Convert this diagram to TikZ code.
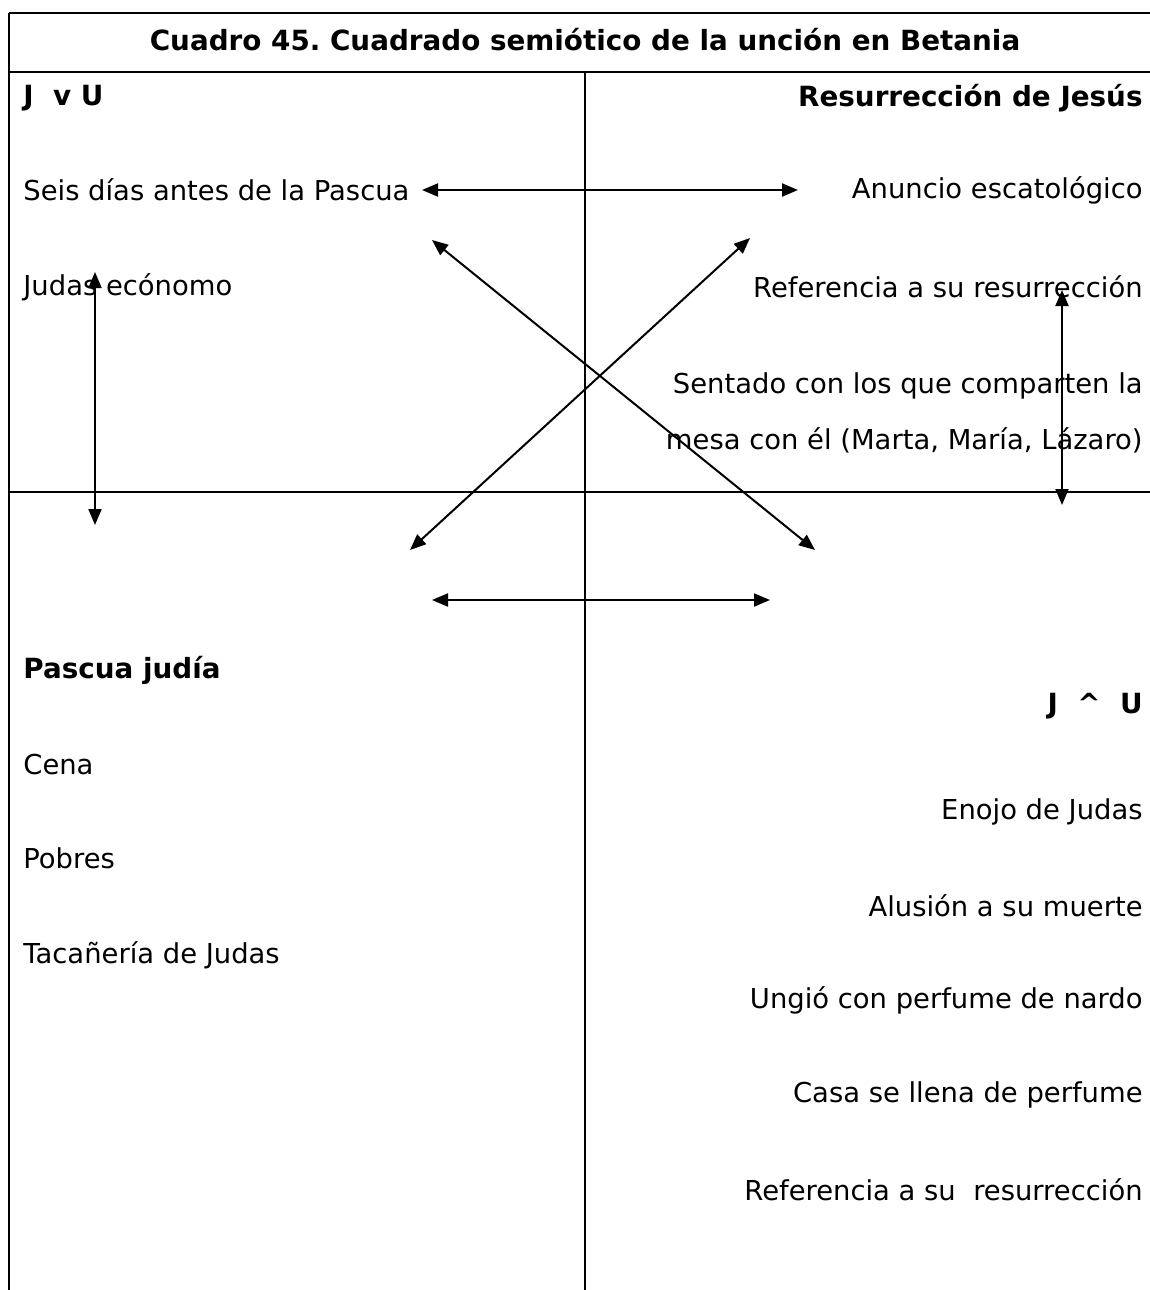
\documentclass[tikz,border=0pt]{standalone}
\usepackage{fontspec}
\setmainfont{DejaVu Sans}
\usetikzlibrary{arrows.meta}
\frenchspacing
\begin{document}
\begin{tikzpicture}[x=0.5pt,y=-0.5pt,
  frame/.style={line width=1pt},
  lab/.style={inner sep=0pt,font=\fontsize{13.7pt}{16pt}\selectfont},
  ttl/.style={inner sep=0pt,font=\fontsize{13.9pt}{16pt}\selectfont\bfseries},
  arr/.style={line width=1pt,{Triangle[length=8pt,width=6.5pt]}-{Triangle[length=8pt,width=6.5pt]}}]
\useasboundingbox (0,0) rectangle (1150,1290);
% frame
\draw[frame] (9,13) -- (1150,13);
\draw[frame] (9,13) -- (9,1290);
\draw[frame] (9,72) -- (1150,72);
\draw[frame] (585,72) -- (585,1290);
\draw[frame] (9,492) -- (1150,492);
% title
\node[ttl] (title) at (585,40) {Cuadro 45. Cuadrado semiótico de la unción en Betania};
% top-left
\node[ttl,anchor=west] (tl0) at (23,98) {J\ \ v U};
\node[lab,anchor=west] (tl1) at (23,190) {Seis días antes de la Pascua};
\node[lab,anchor=west] (tl2) at (23,287) {Judas ecónomo};
% top-right
\node[ttl,anchor=east] (tr0) at (1143,98) {Resurrección de Jesús};
\node[lab,anchor=east] (tr1) at (1143,190) {Anuncio escatológico};
\node[lab,anchor=east] (tr2) at (1143,287) {Referencia a su resurrección};
\node[lab,anchor=east] (tr3) at (1143,386) {Sentado con los que comparten la};
\node[lab,anchor=east] (tr4) at (1143,440) {mesa con él (Marta, María, Lázaro)};
% bottom-left
\node[ttl,anchor=west] (bl0) at (23,670) {Pascua judía};
\node[lab,anchor=west] (bl1) at (23,765) {Cena};
\node[lab,anchor=west] (bl2) at (23,858) {Pobres};
\node[lab,anchor=west] (bl3) at (23,955) {Tacañería de Judas};
% bottom-right
\node[ttl,anchor=east] (br0) at (1143,706) {J\ \ \^{}\ \ U};
\node[lab,anchor=east] (br1) at (1143,812) {Enojo de Judas};
\node[lab,anchor=east] (br2) at (1143,906) {Alusión a su muerte};
\node[lab,anchor=east] (br3) at (1143,1000) {Ungió con perfume de nardo};
\node[lab,anchor=east] (br4) at (1143,1095) {Casa se llena de perfume};
\node[lab,anchor=east] (br5) at (1143,1190) {Referencia a su\ \ resurrección};
% arrow end points
\coordinate (h1a) at (422,190);
\coordinate (h1b) at (798,190);
\coordinate (d1a) at (432,240);
\coordinate (d1b) at (815,550);
\coordinate (d2a) at (750,238);
\coordinate (d2b) at (410,550);
\coordinate (v1a) at (95,272);
\coordinate (v1b) at (95,525);
\coordinate (v2a) at (1062,290);
\coordinate (v2b) at (1062,505);
\coordinate (h2a) at (432,600);
\coordinate (h2b) at (770,600);
\draw[arr] (h1a) -- (h1b);
\draw[arr] (d1a) -- (d1b);
\draw[arr] (d2a) -- (d2b);
\draw[arr] (v1a) -- (v1b);
\draw[arr] (v2a) -- (v2b);
\draw[arr] (h2a) -- (h2b);
\end{tikzpicture}
\end{document}
